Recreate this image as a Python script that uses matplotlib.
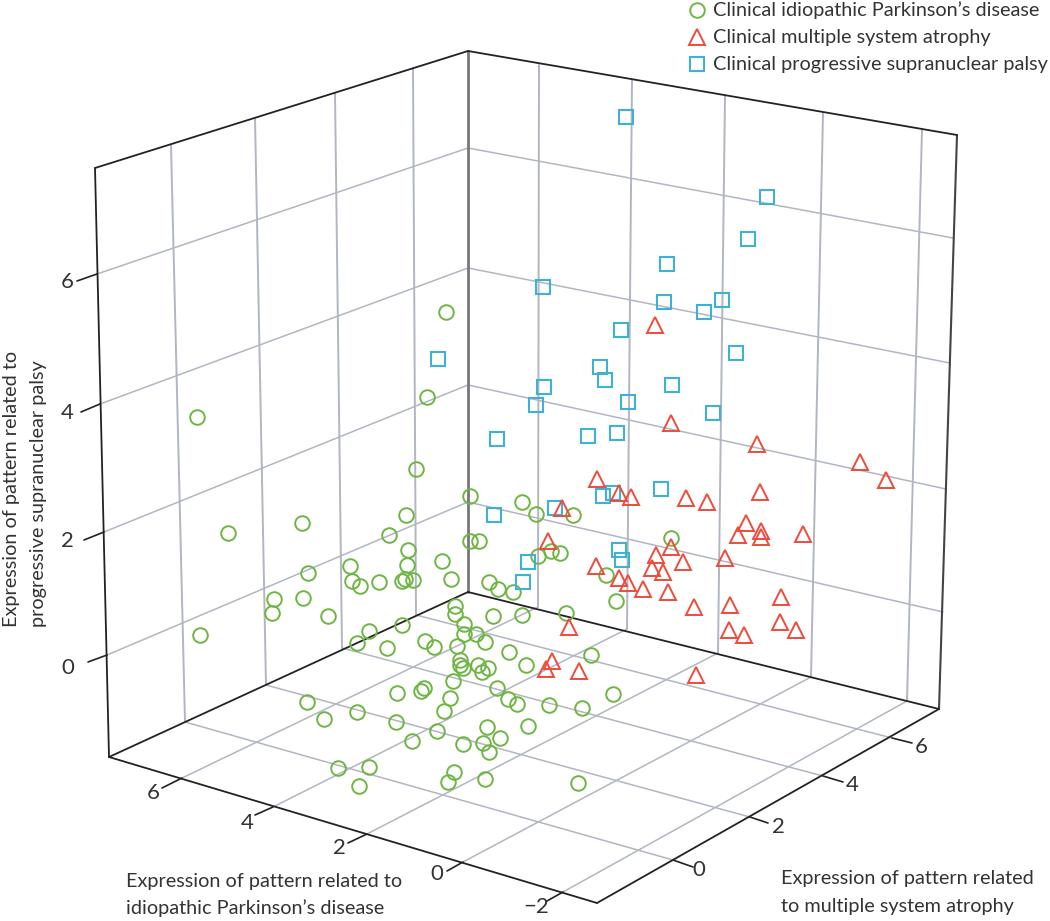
"""
3D scatter of pattern expression, redrawn on a flat axes.
All values are positions on the page as read off the projected plot.
"""
import matplotlib
matplotlib.use('Agg')
import matplotlib.pyplot as plt

plt.rcParams['font.family'] = ['Lato', 'DejaVu Sans']

# Box corners
LEFT_TOP = (95, 168)
BACK_TOP = (468, 51)
RIGHT_TOP = (957, 135)
LEFT_BOT = (109, 757)
BACK_BOT = (468, 592)
RIGHT_BOT = (939, 709)
FRONT_BOT = (597, 903)

# Wall grid, vertical lines
left_wall_top = [(171, 145), (255, 118), (335, 93), (413, 68)]
left_wall_bot = [(185, 722), (266, 685), (342, 648), (416, 615)]
right_wall_top = [(539, 65), (632, 80), (725, 96), (823, 113), (922, 130)]
right_wall_bot = [(538, 607), (627, 629), (718, 653), (811, 677), (907, 701)]

# Wall grid, horizontal lines for z = 6, 4, 2, 0
z_labels = ['6', '4', '2', '0']
z_left = [(97, 274), (100, 404), (104, 532), (107, 655)]
z_back = [(468, 148), (468, 268), (468, 385), (468, 502)]
z_right = [(953, 238), (950, 363), (946, 489), (943, 612)]
z_tick_end = [(77, 281), (81, 412), (84, 540), (88, 662)]
z_label_pos = [(67, 282), (67, 413), (67, 541), (68, 668)]

# Floor, x axis on the left front edge
x_labels = ['6', '4', '2', '0', '\u22122']
x_front = [(182, 778), (273, 807), (367, 834), (463, 862), (563, 892)]
x_tick_end = [(162, 788), (255, 815), (348, 843), (447, 871), (547, 901)]
x_label_pos = [(153, 793), (247, 823), (339, 848), (437, 874), (536, 907)]

# Floor, y axis on the right front edge
y_labels = ['0', '2', '4', '6']
y_front = [(673, 860), (750, 817), (823, 776), (892, 738)]
y_tick_end = [(693, 867), (768, 823), (843, 782), (912, 743)]
y_label_pos = [(699, 870), (778, 827), (852, 785), (921, 747)]

# Projected points
pd_x = [445.7, 426.7, 197, 415.7, 405.7, 302, 228.3, 389, 470, 470, 479.3, 408.3,
        350, 406.7, 308.3, 442.3, 351.7, 360, 379.3, 401.7, 405, 413.3, 450.7,
        274.3, 271.7, 302.7, 328.3, 199.5, 521.7, 535.7, 573.3, 489, 498.3, 513.3,
        537.7, 550.7, 560, 605.7, 616, 670.7, 565.7, 492.7, 522.3,
        455, 455, 464, 464, 476, 485, 401.7, 369, 357.3, 387.3, 425, 434.3, 456.7,
        509, 460, 460, 462.7, 478.3, 488.3, 482.3, 526, 591, 612.7,
        453.3, 496.7, 508.3, 516.7, 424, 420.7, 396.7, 450, 444.3, 549, 581.7,
        528.3, 307.3, 324.3, 356.7, 396, 436.7, 411.7, 486.7, 500, 483.3, 462.7,
        489.3, 338.3, 368.7, 359, 454.3, 448.3, 485, 578.3]
pd_y = [312, 397.3, 416.7, 469, 515.3, 523.3, 533.3, 534.7, 495.7, 541, 541, 550,
        566, 565, 572.7, 561, 581, 585.7, 581.7, 580.7, 579.3, 580, 579,
        599, 613, 598.3, 616, 635, 502.3, 514.3, 515.3, 581.7, 589, 592.3,
        556, 551, 553.3, 575, 601, 537.7, 613.3, 616, 615,
        606, 614, 623.5, 634, 634.2, 641.7, 625, 630.7, 642.7, 648.3, 641, 646.7, 646,
        652, 659.5, 665, 668, 665, 668.3, 672.3, 665, 655, 694.3,
        680.7, 688, 699, 704, 687.7, 690.7, 693.3, 697.5, 710.7, 704.5, 707.5,
        725.7, 702.3, 719.3, 712.3, 722.3, 730.7, 740.7, 727.3, 738.3, 743.3, 744.3,
        752.3, 767.7, 767.3, 786, 772.3, 781.7, 779.3, 782.7]

msa_x = [655.3, 670.7, 756.5, 860, 886, 760, 685.7, 707.3, 745.7, 738.3, 761, 761,
         803.3, 671.2, 655.7, 682.7, 724.7, 652, 663.3, 667.5, 694.3, 730, 780.7,
         729.3, 744, 780, 795.7, 695.7, 596.7, 619, 631, 562, 547.7, 595.7, 619,
         627.7, 642.7, 569.3, 551.7, 546, 578.7]
msa_y = [325, 423.3, 444, 461.7, 480, 491.7, 498.3, 501.7, 523.3, 535, 531, 536.7,
         534, 547.3, 555, 562.3, 558.3, 568, 571.7, 592, 606.7, 605, 597.3,
         630, 635, 621.7, 630, 675, 479, 493, 496.7, 508.3, 540.7, 566, 578.3,
         582.7, 589, 627.3, 660.7, 669, 671]

psp_x = [626, 767.3, 748.3, 666.7, 542.5, 664.3, 721.7, 704.3, 621, 736, 600, 605,
         672.3, 544, 535.7, 627.7, 713.3, 496.7, 588.3, 617.3, 660.5, 603, 613.3,
         555, 494.3, 619.3, 621.7, 528.3, 523.3, 438.3]
psp_y = [116.7, 197.3, 239, 264, 286.7, 302.3, 300.5, 312, 330, 353.3, 367.3, 380,
         385, 387.3, 405, 401.7, 412.7, 439.3, 436, 433.3, 488.5, 496, 492.7,
         508, 514.7, 550, 560, 561.7, 581.7, 358.7]

legend_labels = ['Clinical idiopathic Parkinson\u2019s disease',
                 'Clinical multiple system atrophy',
                 'Clinical progressive supranuclear palsy']
legend_y = [10, 37.5, 64.5]

GREEN = '#6fb544'
RED = '#ee4b3a'
BLUE = '#3fb1d3'
GRID = '#b0b6c2'
TEXT = '#333333'
FONT = 14.35


def seg(ax, a, b, **kw):
    ax.plot([a[0], b[0]], [a[1], b[1]], solid_capstyle='round', **kw)


fig = plt.figure(figsize=(10.5, 9.21), dpi=100, facecolor='white')
ax = fig.add_axes([0, 0, 1, 1])
ax.set_xlim(0, 1050)
ax.set_ylim(921, 0)
ax.axis('off')

# grid on the walls
for a, b in zip(left_wall_top + right_wall_top, left_wall_bot + right_wall_bot):
    seg(ax, a, b, color=GRID, lw=1.4, zorder=1)
for l, m, r in zip(z_left, z_back, z_right):
    seg(ax, l, m, color=GRID, lw=1.1, zorder=1)
    seg(ax, m, r, color=GRID, lw=1.1, zorder=1)

# grid on the floor, each line runs to the foot of a wall line
for a, b in zip(x_front, right_wall_bot):
    seg(ax, a, b, color=GRID, lw=1.1, zorder=1)
for a, b in zip(y_front, left_wall_bot):
    seg(ax, a, b, color=GRID, lw=1.1, zorder=1)

# box outline
seg(ax, BACK_TOP, BACK_BOT, color='#777777', lw=2.0, zorder=2)
seg(ax, RIGHT_TOP, RIGHT_BOT, color='#444444', lw=1.5, zorder=2)
for a, b in [(LEFT_TOP, BACK_TOP), (BACK_TOP, RIGHT_TOP), (LEFT_TOP, LEFT_BOT),
             (LEFT_BOT, BACK_BOT), (BACK_BOT, RIGHT_BOT),
             (LEFT_BOT, FRONT_BOT), (RIGHT_BOT, FRONT_BOT)]:
    seg(ax, a, b, color='#222222', lw=1.3, zorder=2)

# ticks and tick labels
for front, end, pos, lab in zip(z_left + x_front + y_front,
                                z_tick_end + x_tick_end + y_tick_end,
                                z_label_pos + x_label_pos + y_label_pos,
                                z_labels + x_labels + y_labels):
    seg(ax, front, end, color='#222222', lw=1.2, zorder=2)
    ax.text(pos[0], pos[1], lab, fontsize=16, color=TEXT, ha='center', va='center')

# points
ax.plot(pd_x, pd_y, 'o', mfc='none', mec=GREEN, ms=10.5, mew=1.4, zorder=3)
ax.plot(psp_x, psp_y, 's', mfc='none', mec=BLUE, ms=9.6, mew=1.5, zorder=4)
ax.plot(msa_x, msa_y, '^', mfc='none', mec=RED, ms=11, mew=1.4, zorder=5)

# legend
ax.plot([696.7], [legend_y[0]], 'o', mfc='none', mec=GREEN, ms=10.5, mew=1.4)
ax.plot([696.7], [legend_y[1]], '^', mfc='none', mec=RED, ms=11, mew=1.4)
ax.plot([696.7], [legend_y[2]], 's', mfc='none', mec=BLUE, ms=9.6, mew=1.5)
for y, lab in zip(legend_y, legend_labels):
    ax.text(713, y, lab, fontsize=FONT, color=TEXT, ha='left', va='center')

# axis titles
ax.text(126, 881, 'Expression of pattern related to', fontsize=FONT, color=TEXT, va='center')
ax.text(126, 908, 'idiopathic Parkinson\u2019s disease', fontsize=FONT, color=TEXT, va='center')
ax.text(781, 878, 'Expression of pattern related', fontsize=FONT, color=TEXT, va='center')
ax.text(781, 906, 'to multiple system atrophy', fontsize=FONT, color=TEXT, va='center')
ax.text(12, 627, 'Expression of pattern related to', fontsize=FONT, color=TEXT,
        rotation=90, ha='center', va='bottom')
ax.text(39, 627, 'progressive supranuclear palsy', fontsize=FONT, color=TEXT,
        rotation=90, ha='center', va='bottom')

fig.savefig('out.png', dpi=100, facecolor='white')
